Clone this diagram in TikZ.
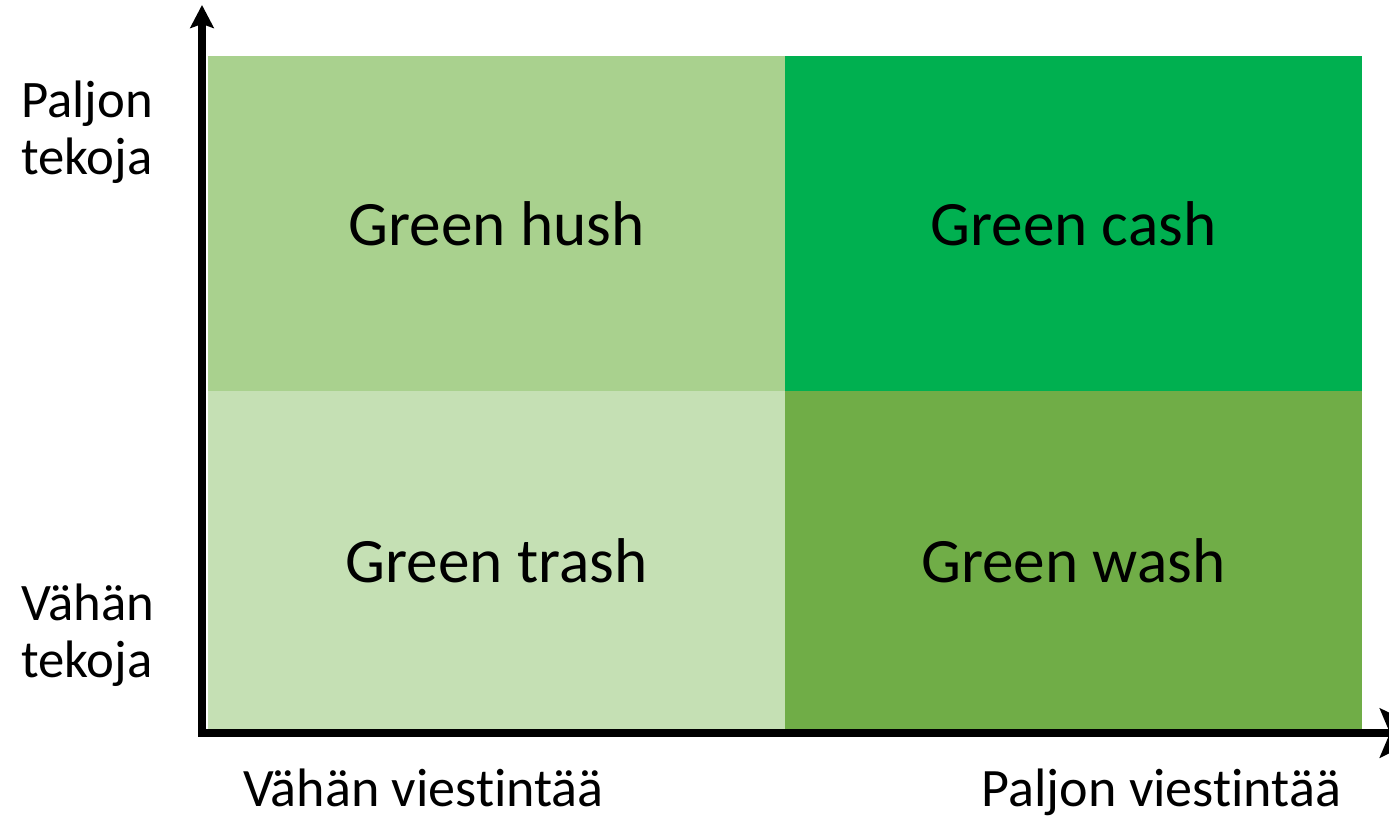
\documentclass[tikz,border=0pt]{standalone}
\usepackage{fontspec}
\setmainfont{Carlito}[Ligatures=NoCommon]
\usetikzlibrary{positioning,arrows.meta}
\definecolor{hushgreen}{HTML}{A9D18E}
\definecolor{cashgreen}{HTML}{00B050}
\definecolor{trashgreen}{HTML}{C5E0B4}
\definecolor{washgreen}{HTML}{70AD47}
\tikzset{
    quadrant/.style = {
        shape=rectangle,
        anchor=north west,
        inner sep=0pt,
        minimum width=11.52cm,
        fill=#1,
        draw=#1,
        line width=0.6pt,
        font=\fontsize{36}{42}\selectfont
    },
    axis/.style = {
        draw,
        line width=4.5pt
    },
    sidelabel/.style = {
        anchor=west,
        align=left,
        inner sep=0pt,
        font=\fontsize{30}{32.4}\selectfont
    },
    bottomlabel/.style = {
        anchor=base,
        inner sep=0pt,
        font=\fontsize{30.8}{34}\selectfont
    },
}

\begin{document}
\begin{tikzpicture}[x=0.02cm, y=-0.02cm]
            \useasboundingbox (0,0) rectangle (1389,820);

            \node[quadrant=hushgreen, minimum height=6.69cm] (hush) at (208,56) {Green hush};
            \node[quadrant=cashgreen, minimum height=6.69cm] (cash) at (hush.north east) {Green cash};
            \node[quadrant=trashgreen, minimum height=6.77cm] (trash) at (hush.south west) {Green trash};
            \node[quadrant=washgreen, minimum height=6.77cm] (wash) at (trash.north east) {Green wash};

            \coordinate (origin) at (202,733);
            \coordinate (ytip) at (202,5);
            \coordinate (xorigin) at (198,733);
            \coordinate (xtip) at (1430,733);
            \path[axis, -{Stealth[length=0.46cm, width=0.47cm, inset=0.08cm]}] (origin) -- (ytip);
            \path[axis, -{Stealth[length=1cm, width=0.98cm, inset=0.2cm]}] (xorigin) -- (xtip);

            \node[sidelabel] (highact) at (21,132) {Paljon\\tekoja};
            \node[sidelabel] (lowact) at (21,635) {Vähän\\tekoja};
            \node[bottomlabel] (lowcomm) at (423.5,806) {Vähän viestintää};
            \node[bottomlabel] (highcomm) at (1161.5,806) {Paljon viestintää};

        \end{tikzpicture}
\end{document}
